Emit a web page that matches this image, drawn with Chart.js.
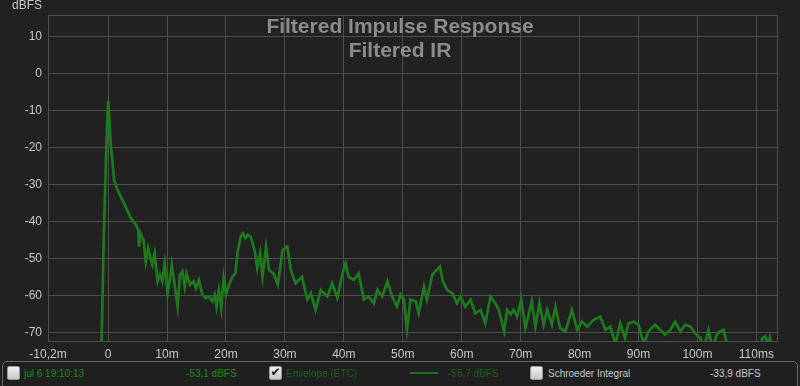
<!DOCTYPE html>
<html>
<head>
<meta charset="utf-8">
<script src="https://cdn.jsdelivr.net/npm/chart.js@4"></script>
<style>
  html, body { margin: 0; padding: 0; background: #212121; }
  #wrap { position: relative; width: 800px; height: 386px; overflow: hidden; background: #212121; font-family: "Liberation Sans", Arial, sans-serif; }
  canvas { position: absolute; left: 0; top: 0; }
  .ov { position: absolute; white-space: nowrap; }
  #ylab { left: 0; width: 42px; text-align: right; top: -2px; font-size: 12px; line-height: 14px; color: #c8c8c8; }
  #title { left: 0; width: 800px; top: 14px; text-align: center; font-weight: bold; font-size: 21px; line-height: 23.5px; color: #8c8c8c; }
  #legend { position: absolute; left: 2px; top: 361px; width: 794px; height: 30px; border: 1px solid #666; border-radius: 5px; background: #1f1f1f; }
  .cb { position: absolute; top: 366px; width: 11px; height: 12px; border-radius: 2px; background: linear-gradient(#f0f0f0, #c8c8c8); border: 1px solid #999; }
  .cb span { position: absolute; left: 0; top: -2px; width: 11px; text-align: center; font-size: 12px; line-height: 14px; color: #222; font-family: "DejaVu Sans", sans-serif; font-weight: bold; }
  .lt { position: absolute; top: 367px; font-size: 10px; line-height: 13px; }
  #lsample { position: absolute; left: 410px; top: 372px; width: 28px; height: 2px; background: #1d6e1d; }
</style>
</head>
<body>
<div id="wrap">
  <canvas id="c" width="800" height="386"></canvas>
  <div id="ylab" class="ov">dBFS</div>
  <div id="title" class="ov">Filtered Impulse Response<br>Filtered IR</div>
  <div id="legend"></div>
  <div class="cb" style="left:7px"></div>
  <div class="lt" style="left:24px;color:#1f8a1f">jul 6 19:10:13</div>
  <div class="lt" style="left:186px;color:#1f8a1f">-53,1 dBFS</div>
  <div class="cb" style="left:269px"><span>✔</span></div>
  <div class="lt" style="left:286px;color:#1b5e1b">Envelope (ETC)</div>
  <div id="lsample"></div>
  <div class="lt" style="left:448px;color:#1b5e1b">-55,7 dBFS</div>
  <div class="cb" style="left:530px"></div>
  <div class="lt" style="left:548px;color:#c8c8c8">Schroeder Integral</div>
  <div class="lt" style="left:710px;color:#c8c8c8">-33,9 dBFS</div>
</div>
<script>
// ---- data ----
const timesMs = [
  -1.4, -1.1, -0.7, -0.3, 0, 0.2, 0.46, 0.7, 1.0, 1.5, 2.15, 3.0,
  3.85, 4.7, 5.1, 5.25, 5.5, 6.0, 6.4, 6.8, 7.2, 7.5, 7.9, 8.4, 8.8, 9.2, 9.6, 10.1, 10.5, 10.8,
  11.2, 11.8, 12.2, 12.6, 13.0, 13.3, 13.9, 14.5, 14.9, 15.4, 16.0, 16.6, 17.1, 17.7, 18.1, 18.4, 18.8, 19.2, 19.6, 20.0,
  20.5, 21.1, 21.6, 22.0, 22.5, 22.9, 23.3, 23.7, 24.2, 24.9, 25.3, 25.8,
  26.2, 26.8, 27.3, 28.1, 28.8, 29.6,
  30.4, 31.0, 31.8, 32.9, 33.8, 34.4, 35.2, 36.1, 37.2, 38.0, 38.9, 39.7, 40.3, 40.8, 41.7, 42.5, 43.4, 44.2, 45.1, 45.7,
  46.5, 47.4, 48.2, 49.0, 49.6, 50.2, 50.7, 51.3, 52.2, 52.7, 53.6, 54.1, 55.0, 55.5, 56.3, 56.8, 57.5, 58.4, 59.2, 59.8,
  60.6, 61.5, 62.3, 63.2, 64.0, 64.9, 65.7, 66.3, 67.2, 67.7, 68.3, 68.8, 69.4, 70.1, 70.8, 71.9, 72.5, 73.2, 73.9, 74.5,
  75.3, 75.9, 76.7, 77.6, 78.7, 79.6, 80.4, 81.3, 82.4, 83.5, 84.4, 85.2, 86.1, 86.9, 87.7, 88.3, 89.2, 90.0, 90.9, 91.7,
  92.8, 93.7, 94.5, 95.4, 96.2, 97.1, 97.9, 98.8, 99.6, 100.5, 101.1, 101.9, 102.5, 103.3, 103.8, 104.4, 105.2, 106.0, 108.0, 110.5,
  111.0, 111.5, 112.0, 112.3, 112.8, 113.5
];
const envelopeDb = [
  -85, -72, -42, -20, -7.2, -12, -19.6, -23, -28.6, -31, -33.2, -36,
  -39.0, -40.8, -42.2, -46.7, -43.1, -44.9, -50.7, -47.1, -49.8, -51.6, -48.5, -56.1, -54.3, -56.1, -51.2, -59.3, -55.2, -51.6,
  -56.1, -62.9, -54.3, -53.4, -57.5, -53.9, -57, -56.1, -57.9, -55.7, -59.7, -60.6, -60.2, -61.5, -59.7, -62.9, -58.4, -63.3, -55.2, -59.7,
  -57, -54.8, -53.9, -48, -44, -43.1, -44.4, -43.5, -44, -48, -52.5, -48.5,
  -54.8, -46.7, -53, -54, -57, -47.6,
  -46.7, -53, -56.6, -54.8, -61, -59.3, -63.8, -58.4, -60.2, -56.6, -60.6, -54.3, -51.2, -54.8, -55.7, -53.9, -61, -60.2, -62, -58.4,
  -60.2, -56.1, -60.2, -62.9, -59.7, -61, -69.2, -61, -61.5, -64.7, -57.5, -61, -54.3, -53.4, -52.1, -56.1, -58.4, -59.3, -62, -60.2,
  -62.9, -61, -64.7, -63.8, -67.4, -60.2, -62, -63.8, -69.6, -63.8, -65, -63.8, -65.6, -61, -68.7, -61.5, -68.3, -62, -67.8, -63.8,
  -67.8, -62.9, -68.7, -69.6, -63.8, -69.2, -66.9, -68.3, -66.5, -65.6, -69.2, -68.3, -73, -67.4, -71.4, -67.4, -67, -67.8, -73, -69.6,
  -67.8, -69.2, -70.5, -69.2, -67, -69.6, -67.8, -68.3, -70.1, -71.4, -74, -69.2, -74, -70.5, -69.6, -69.2, -74, -78, -78, -76,
  -71.5, -71, -73, -71.3, -75, -78
];
const xTickValues = [-10.2, 0, 10, 20, 30, 40, 50, 60, 70, 80, 90, 100, 110];
const xTickLabels = ["-10,2m", "0", "10m", "20m", "30m", "40m", "50m", "60m", "70m", "80m", "90m", "100m", "110ms"];
const yTickValues = [-70, -60, -50, -40, -30, -20, -10, 0, 10];
const yTickLabels = ["-70", "-60", "-50", "-40", "-30", "-20", "-10", "0", "10"];

const points = timesMs.map((t, i) => ({ x: t, y: envelopeDb[i] }));

const gridColor = '#4e4e4e';
const tickColor = '#c8c8c8';
const tickFont = { family: '"Liberation Sans", Arial, sans-serif', size: 12 };

const frame = {
  id: 'frame',
  afterDraw(chart) {
    const a = chart.chartArea, ctx = chart.ctx;
    ctx.save();
    ctx.strokeStyle = gridColor;
    ctx.lineWidth = 1;
    ctx.strokeRect(Math.round(a.left) + 0.5, Math.round(a.top) + 0.5, Math.round(a.right - a.left), Math.round(a.bottom - a.top));
    ctx.restore();
  }
};

new Chart(document.getElementById('c'), {
  type: 'line',
  data: {
    datasets: [{
      label: 'Envelope (ETC)',
      data: points,
      borderColor: '#1e7a1e',
      borderWidth: 2.7,
      pointRadius: 0,
      tension: 0,
      fill: false,
      clip: 0
    }]
  },
  options: {
    responsive: false,
    animation: false,
    layout: { padding: { left: 0, top: 15, right: 23, bottom: 25 } },
    plugins: { legend: { display: false }, title: { display: false }, tooltip: { enabled: false } },
    scales: {
      x: {
        type: 'linear',
        min: -10.2,
        max: 113.5,
        afterBuildTicks: s => { s.ticks = xTickValues.map(v => ({ value: v })); },
        afterFit: s => { s.height = 20; },
        grid: { color: gridColor, drawTicks: false },
        border: { color: gridColor },
        ticks: {
          color: tickColor, font: tickFont, padding: 6, autoSkip: false, maxRotation: 0,
          callback: (v, i) => xTickLabels[i]
        }
      },
      y: {
        min: -72.2,
        max: 15.9,
        afterBuildTicks: s => { s.ticks = yTickValues.map(v => ({ value: v })); },
        afterFit: s => { s.width = 48; },
        grid: { color: gridColor, drawTicks: false },
        border: { color: gridColor },
        ticks: {
          color: tickColor, font: tickFont, padding: 6, autoSkip: false,
          callback: (v, i) => yTickLabels[i]
        }
      }
    }
  },
  plugins: [frame]
});
</script>
</body>
</html>
